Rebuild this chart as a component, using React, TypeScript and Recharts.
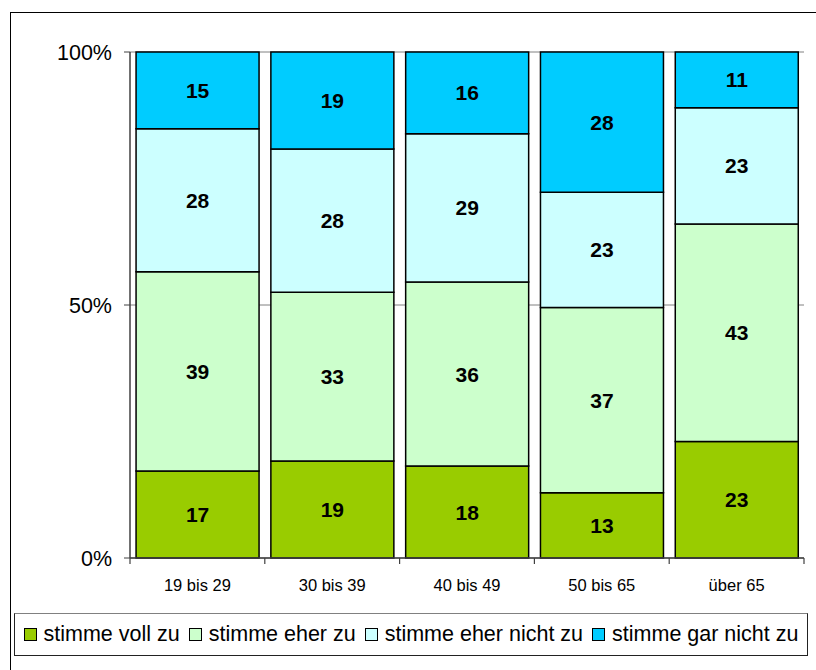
import React from 'react';
import { BarChart, Bar, XAxis, YAxis, CartesianGrid, LabelList } from 'recharts';

const categories = ['19 bis 29', '30 bis 39', '40 bis 49', '50 bis 65', 'über 65'];
const vollZu = [17, 19, 18, 13, 23];
const eherZu = [39, 33, 36, 37, 43];
const eherNichtZu = [28, 28, 29, 23, 23];
const garNichtZu = [15, 19, 16, 28, 11];
const seriesNames = ['stimme voll zu', 'stimme eher zu', 'stimme eher nicht zu', 'stimme gar nicht zu'];
const yTicks = [0, 0.5, 1];

const seriesValues = [vollZu, eherZu, eherNichtZu, garNichtZu];
const seriesKeys = ['voll', 'eher', 'eherNicht', 'garNicht'];
const colors = ['#99cc00', '#ccffcc', '#ccffff', '#00ccff'];

const data = categories.map((name, i) => {
  const row: Record<string, string | number> = { name };
  seriesKeys.forEach((k, s) => { row[k] = seriesValues[s][i]; });
  return row;
});

const FONT = 'Arial, "Liberation Sans", sans-serif';
const W = 816;
const H = 670;
const PLOT_LEFT = 130;
const PLOT_RIGHT = 804;
const halfBand = (PLOT_RIGHT - PLOT_LEFT) / categories.length / 2;

function XTick(props: any) {
  const { x, y, payload, index } = props;
  return (
    <g>
      <line x1={x - halfBand} x2={x - halfBand} y1={y} y2={y + 6} stroke="#404040" strokeWidth={1.2} />
      {index === categories.length - 1 && (
        <line x1={x + halfBand} x2={x + halfBand} y1={y} y2={y + 6} stroke="#404040" strokeWidth={1.2} />
      )}
      <text x={x} y={y + 33} textAnchor="middle" fontSize={16.5} fontFamily={FONT} fill="#000">
        {payload.value}
      </text>
    </g>
  );
}

function makeLabel(values: number[]) {
  return (p: any) => (
    <text
      x={p.x + p.width / 2}
      y={p.y + p.height / 2}
      dy="0.36em"
      textAnchor="middle"
      fontSize={21}
      fontWeight="bold"
      fontFamily={FONT}
      fill="#000"
    >
      {values[p.index]}
    </text>
  );
}

export default function App() {
  return (
    <div style={{ position: 'absolute', left: 0, top: 0, width: W, height: H, overflow: 'hidden', background: '#fff', fontFamily: FONT }}>
      <div style={{ position: 'absolute', left: 10, top: 12, width: 830, height: 700, border: '1.5px solid #000' }} />
      <div style={{ position: 'absolute', left: 0, top: 0 }}>
        <BarChart
          width={W}
          height={H}
          data={data}
          stackOffset="expand"
          barCategoryGap="4.5%"
          margin={{ top: 52, right: W - PLOT_RIGHT, left: PLOT_LEFT - 60, bottom: 72 }}
        >
          <CartesianGrid vertical={false} stroke="#808080" strokeWidth={1} />
          <XAxis
            dataKey="name"
            height={40}
            tickSize={0}
            tickMargin={0}
            tickLine={false}
            axisLine={{ stroke: '#404040', strokeWidth: 1.5 }}
            tick={<XTick />}
            interval={0}
          />
          <YAxis
            width={60}
            domain={[0, 1]}
            ticks={yTicks}
            tickFormatter={(v: number) => `${Math.round(v * 100)}%`}
            tickSize={6}
            tickMargin={12}
            tickLine={{ stroke: '#404040' }}
            axisLine={{ stroke: '#404040', strokeWidth: 1.5 }}
            tick={{ fill: '#000', fontSize: 21.5, fontFamily: FONT }}
          />
          <YAxis
            yAxisId="right"
            orientation="right"
            width={0}
            tick={false}
            tickLine={false}
            axisLine={{ stroke: '#a0a0a0', strokeWidth: 1.5 }}
          />
          {seriesKeys.map((k, s) => (
            <Bar
              key={k}
              dataKey={k}
              name={seriesNames[s]}
              stackId="a"
              fill={colors[s]}
              stroke="#000"
              strokeWidth={1.5}
              isAnimationActive={false}
            >
              <LabelList dataKey={k} content={makeLabel(seriesValues[s])} />
            </Bar>
          ))}
        </BarChart>
      </div>
      <div
        style={{
          position: 'absolute',
          left: 14,
          top: 613,
          width: 794,
          height: 43,
          boxSizing: 'border-box',
          border: '1.5px solid #222',
          borderTopColor: '#808080',
          display: 'flex',
          alignItems: 'center',
          justifyContent: 'center',
          gap: 9,
          fontSize: 21.5,
          whiteSpace: 'nowrap',
        }}
      >
        {seriesNames.map((n, s) => (
          <div key={n} style={{ display: 'flex', alignItems: 'center', gap: 7 }}>
            <span style={{ display: 'inline-block', width: 11, height: 11, background: colors[s], border: '1.5px solid #000' }} />
            <span>{n}</span>
          </div>
        ))}
      </div>
    </div>
  );
}
